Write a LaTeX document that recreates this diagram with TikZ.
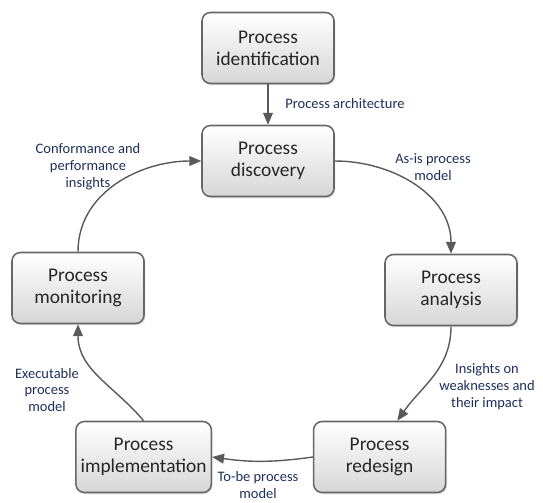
\documentclass[tikz,border=0pt]{standalone}
\usepackage{fontspec}
\setmainfont{Carlito}
\usetikzlibrary{arrows.meta}
\usetikzlibrary{shadows}

\definecolor{boxline}{HTML}{666666}
\definecolor{boxlow}{HTML}{D6D6D6}
\definecolor{arrowgray}{HTML}{5A5A5A}
\definecolor{labelblue}{HTML}{1F2F5C}

\begin{document}
\begin{tikzpicture}[
    proc/.style={draw=boxline, line width=1.1pt, rounded corners=6pt,
      top color=white, bottom color=boxlow,
      drop shadow={opacity=0.25, shadow xshift=1pt, shadow yshift=-1.2pt},
      minimum width=3.3cm, minimum height=1.775cm, align=center,
      font=\fontsize{13.8}{15.8}\selectfont, text=black!85},
    lab/.style={align=center, text=labelblue,
      font=\fontsize{10.3}{12}\selectfont},
    flow/.style={draw=arrowgray, line width=1pt,
      -{Triangle[length=8.5pt,width=7pt]}}
    ]
    \useasboundingbox (0,0) rectangle (13.575,12.55);
    \node[proc] (ident) at (6.7,11.35) {Process\\identification};
    \node[proc] (disc) at (6.7,8.525) {Process\\discovery};
    \node[proc] (anal) at (11.275,5.3) {Process\\analysis};
    \node[proc] (redes) at (9.49,1.125) {Process\\redesign};
    \node[proc] (impl) at (3.59,1.125) {Process\\implementation};
    \node[proc] (monit) at (1.95,5.35) {Process\\monitoring};

    \draw[flow] (ident) -- (disc);
    \draw[flow] (disc.east) to[out=0, in=90] (anal.north);
    \draw[flow] (anal.south) to[out=-90, in=55] (redes.64);
    \draw[flow] (redes.west) to[out=188, in=-8] (impl.east);
    \draw[flow] (impl.north) to[out=130, in=-90] (monit.south);
    \draw[flow] (monit.north) to[out=90, in=180] (disc.west);

    \node[lab] (arch) at (8.625,9.95) {Process architecture};
    \node[lab] (asis) at (10.825,8.375) {As-is process\\model};
    \node[lab] (weak) at (12.175,2.875) {Insights on\\weaknesses and\\their impact};
    \node[lab] (tobe) at (6.45,0.425) {To-be process\\model};
    \node[lab] (exec) at (1.175,2.8) {Executable\\process\\model};
    \node[lab] (conf) at (2.2,8.375) {Conformance and\\performance\\insights};
  \end{tikzpicture}
\end{document}
